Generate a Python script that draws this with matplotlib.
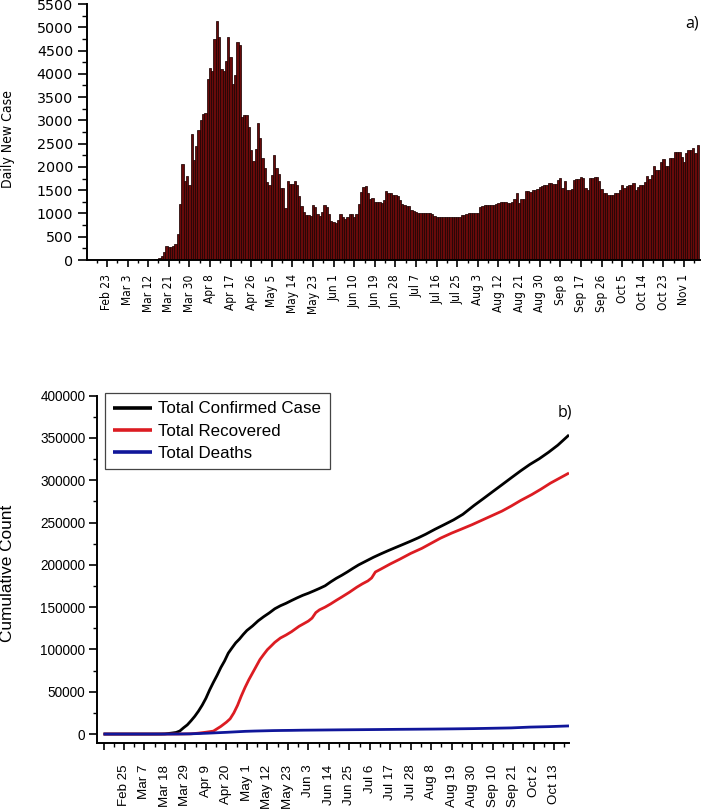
import os
import numpy as np
import pandas as pd
import matplotlib
matplotlib.use("Agg")
import matplotlib.pyplot as plt
from matplotlib import font_manager
from matplotlib.ticker import FixedLocator

# ---------------- data ----------------
START = pd.Timestamp("2020-02-14")          # first day of both time axes

daily_feb_mar10 = [0] * 26                   # Feb 14 - Mar 10
daily_mar = [1, 0, 4, 1, 12, 29, 51, 93, 168, 311, 277, 289, 293, 343, 561,
             1196, 2069, 1704, 1815, 1610, 2704]                       # Mar 11-31
daily_apr = [2148, 2456, 2786, 3013, 3135, 3148, 3892, 4117, 4056, 4747,
             5138, 4789, 4093, 4062, 4281, 4801, 4353, 3783, 3977, 4674,
             4611, 3083, 3116, 3122, 2861, 2357, 2131, 2392, 2936, 2615]
daily_may = [2188, 1983, 1670, 1614, 1832, 2253, 1977, 1848, 1546, 1542,
             1114, 1704, 1635, 1639, 1708, 1610, 1368, 1158, 1022, 972,
             961, 952, 1186, 1141, 987, 948, 1035, 1182, 1141, 983, 839]
daily_jun = [827, 786, 867, 988, 930, 878, 916, 989, 993, 922,
             987, 1195, 1459, 1562, 1592, 1430, 1300, 1330, 1250, 1240,
             1240, 1230, 1290, 1490, 1450, 1430, 1390, 1390, 1370, 1290]
daily_jul = [1200, 1190, 1170, 1160, 1080, 1050, 1040, 1020, 1010, 1010,
             1000, 1010, 1000, 990, 940, 930, 930, 920, 920, 915,
             920, 920, 930, 925, 930, 930, 970, 970, 990, 1000, 1000]
daily_aug = [1000, 1010, 1020, 1140, 1170, 1180, 1180, 1180, 1190, 1190,
             1210, 1230, 1250, 1250, 1250, 1225, 1225, 1240, 1300, 1430,
             1225, 1300, 1300, 1480, 1490, 1460, 1500, 1510, 1520, 1575, 1600]
daily_sep = [1610, 1620, 1650, 1650, 1640, 1640, 1720, 1755, 1545, 1690,
             1510, 1500, 1520, 1720, 1740, 1740, 1790, 1760, 1545, 1500,
             1760, 1760, 1775, 1775, 1690, 1520, 1430, 1430, 1400, 1400]
daily_oct = [1400, 1430, 1430, 1500, 1610, 1540, 1600, 1610, 1610, 1650,
             1500, 1560, 1610, 1620, 1680, 1800, 1750, 1820, 2020, 1930,
             1930, 2110, 2160, 2020, 2020, 2200, 2200, 2310, 2310, 2310, 2220]
daily_nov = [2110, 2290, 2360, 2360, 2400, 2290, 2470]                  # Nov 1-7

top_tick_labels = ["Feb 23", "Mar 3", "Mar 12", "Mar 21", "Mar 30", "Apr 8",
                   "Apr 17", "Apr 26", "May 5", "May 14", "May 23", "Jun 1",
                   "Jun 10", "Jun 19", "Jun 28", "Jul 7", "Jul 16", "Jul 25",
                   "Aug 3", "Aug 12", "Aug 21", "Aug 30", "Sep 8", "Sep 17",
                   "Sep 26", "Oct 5", "Oct 14", "Oct 23", "Nov 1"]
bottom_tick_labels = ["Feb 25", "Mar 7", "Mar 18", "Mar 29", "Apr 9", "Apr 20",
                      "May 1", "May 12", "May 23", "Jun 3", "Jun 14", "Jun 25",
                      "Jul 6", "Jul 17", "Jul 28", "Aug 8", "Aug 19", "Aug 30",
                      "Sep 10", "Sep 21", "Oct 2", "Oct 13"]

confirmed_dates = ["Feb 14", "Mar 10", "Mar 13", "Mar 16", "Mar 18", "Mar 20",
                   "Mar 22", "Mar 24", "Mar 26", "Mar 28", "Mar 30", "Apr 1",
                   "Apr 3", "Apr 5", "Apr 7", "Apr 9", "Apr 11", "Apr 13",
                   "Apr 15", "Apr 17", "Apr 19", "Apr 21", "Apr 23", "Apr 25",
                   "Apr 27", "Apr 29", "May 1", "May 4", "May 7", "May 10",
                   "May 13", "May 16", "May 19", "May 22", "May 25", "May 28",
                   "May 31", "Jun 3", "Jun 6", "Jun 9", "Jun 12", "Jun 15",
                   "Jun 18", "Jun 21", "Jun 24", "Jun 27", "Jun 30", "Jul 4",
                   "Jul 8", "Jul 12", "Jul 16", "Jul 20", "Jul 24", "Jul 28",
                   "Aug 1", "Aug 5", "Aug 10", "Aug 15", "Aug 20", "Aug 25",
                   "Aug 31", "Sep 5", "Sep 10", "Sep 15", "Sep 20", "Sep 25",
                   "Sep 30", "Oct 5", "Oct 10", "Oct 15", "Oct 21"]
total_confirmed = [0, 0, 5, 47, 191, 670, 1236, 1872, 3629, 7402, 10827, 15679,
                   20921, 27069, 34109, 42282, 52167, 61049, 69392, 78546,
                   86306, 95591, 101790, 107773, 112261, 117589, 122392,
                   127659, 133721, 138657, 143114, 148067, 151615, 154500,
                   157814, 160979, 163942, 166422, 169218, 172114, 175218,
                   179831, 184031, 187685, 191657, 195883, 199906, 204428,
                   208938, 212993, 216873, 220572, 224252, 227982, 231869,
                   236112, 241997, 247500, 253108, 259692, 270133, 278228,
                   286455, 294620, 302867, 311000, 318663, 325331, 333000,
                   341431, 353500]

recovered_dates = ["Feb 14", "Mar 20", "Mar 27", "Apr 1", "Apr 5", "Apr 9",
                   "Apr 13", "Apr 17", "Apr 20", "Apr 22", "Apr 24", "Apr 26",
                   "Apr 28", "Apr 30", "May 2", "May 4", "May 6", "May 8",
                   "May 10", "May 12", "May 14", "May 16", "May 19", "May 22",
                   "May 25", "May 29", "Jun 1", "Jun 3", "Jun 5", "Jun 7",
                   "Jun 9", "Jun 12", "Jun 15", "Jun 18", "Jun 21", "Jun 25",
                   "Jun 29", "Jul 2", "Jul 5", "Jul 7", "Jul 9", "Jul 12",
                   "Jul 17", "Jul 22", "Jul 28", "Aug 3", "Aug 8", "Aug 13",
                   "Aug 19", "Aug 24", "Aug 30", "Sep 4", "Sep 9", "Sep 15",
                   "Sep 20", "Sep 25", "Oct 1", "Oct 6", "Oct 11", "Oct 16",
                   "Oct 21"]
total_recovered = [0, 0, 70, 243, 1042, 2142, 3446, 9000, 14000, 18000, 25000,
                   34000, 45000, 55000, 64000, 72000, 80000, 88000, 94000,
                   99700, 104000, 108400, 113500, 117000, 121000, 127300,
                   131000, 133500, 137000, 143500, 146800, 150000, 153800,
                   158000, 162000, 167500, 173500, 177500, 181000, 184500,
                   191500, 195000, 201000, 206500, 213500, 219500, 225500,
                   231500, 237500, 242000, 247500, 252500, 257500, 263500,
                   269500, 276000, 283000, 289500, 296500, 302500, 308500]

death_dates = ["Feb 14", "Mar 16", "Mar 20", "Mar 25", "Mar 31", "Apr 5",
               "Apr 10", "Apr 15", "Apr 20", "Apr 25", "Apr 30", "May 5",
               "May 10", "May 15", "May 20", "May 25", "May 31", "Jun 10",
               "Jun 20", "Jun 30", "Jul 10", "Jul 20", "Jul 31", "Aug 10",
               "Aug 20", "Aug 31", "Sep 10", "Sep 20", "Sep 30", "Oct 10",
               "Oct 21"]
total_deaths = [0, 0, 9, 59, 214, 574, 1006, 1518, 2017, 2600, 3174, 3520,
                3786, 4055, 4222, 4340, 4540, 4746, 4950, 5131, 5323, 5526,
                5710, 5891, 6121, 6417, 6837, 7249, 8195, 8722, 9584]

# ---------------- helpers ----------------
def day_index(labels):
    d = pd.to_datetime(["2020 " + s for s in labels], format="%Y %b %d")
    return np.asarray((d - START).days, dtype=float)

names = {f.name for f in font_manager.fontManager.ttflist}
SANS = "Liberation Sans" if "Liberation Sans" in names else "DejaVu Sans"
LABEL_FONT = "Open Sans" if "Open Sans" in names else SANS

# condensed face for the narrow rotated labels of panel a
narrow_file = None
prefs = ["liberationsansnarrow-regular", "dejavusanscondensed.",
         "robotocondensed-regular", "condensed", "narrow"]
all_files = list(font_manager.findSystemFonts())
for p in prefs:
    hits = [f for f in all_files if p in os.path.basename(f).lower()
            and not any(k in os.path.basename(f).lower()
                        for k in ("bold", "italic", "oblique"))]
    if hits:
        narrow_file = sorted(hits)[0]
        break

def narrow_prop(size):
    if narrow_file:
        return font_manager.FontProperties(fname=narrow_file, size=size)
    return font_manager.FontProperties(family=SANS, size=size * 0.95)

daily = (daily_feb_mar10 + daily_mar + daily_apr + daily_may + daily_jun +
         daily_jul + daily_aug + daily_sep + daily_oct + daily_nov)
x_daily = np.arange(len(daily))

W, H = 713, 809
fig = plt.figure(figsize=(W / 100, H / 100), dpi=100)

# ---------------- panel a ----------------
ax1 = fig.add_axes([87 / W, 1 - 260 / H, (700 - 87) / W, (260 - 4) / H])
ax1.bar(x_daily, daily, width=1.0, color="#680a0a", edgecolor="#1e0303",
        linewidth=0.55, align="center", zorder=2)
ax1.set_xlim(0.3, 268)
ax1.set_ylim(0, 5500)

top_major = np.concatenate([[day_index(top_tick_labels)[0] - 9],
                            day_index(top_tick_labels)])
ax1.xaxis.set_major_locator(FixedLocator(top_major))
ax1.xaxis.set_minor_locator(FixedLocator(top_major + 4.5))
ax1.set_xticklabels([""] + top_tick_labels, rotation=90,
                    fontproperties=narrow_prop(8.6))
ax1.set_yticks(np.arange(0, 5501, 500))
ax1.yaxis.set_minor_locator(FixedLocator(np.arange(250, 5500, 500)))
for lbl in ax1.get_yticklabels():
    lbl.set_family("DejaVu Sans")
    lbl.set_fontsize(10.3)
ax1.tick_params(axis="x", which="major", direction="out", length=4.8,
                width=1.2, pad=5.5)
ax1.tick_params(axis="x", which="minor", direction="out", length=2.5, width=1.0)
ax1.tick_params(axis="y", which="major", direction="out", length=6.5,
                width=1.2, pad=3.5)
ax1.tick_params(axis="y", which="minor", direction="out", length=3.4, width=1.0)
for s in ("top", "right"):
    ax1.spines[s].set_visible(False)
for s in ("left", "bottom"):
    ax1.spines[s].set_linewidth(1.4)
fig.text(8 / W, 1 - 139 / H, "Daily New Case", rotation=90, ha="center",
         va="center", fontproperties=narrow_prop(10.0))
fig.text(692 / W, 1 - 23 / H, "a)", ha="center", va="center", fontsize=11.5,
         family=LABEL_FONT)

# ---------------- panel b ----------------
ax2 = fig.add_axes([97 / W, 1 - 743 / H, (569 - 97) / W, (743 - 395.6) / H])
ax2.plot(day_index(confirmed_dates), total_confirmed, color="black", lw=2.0,
         label="Total Confirmed Case", solid_capstyle="butt", zorder=3)
ax2.plot(day_index(recovered_dates), total_recovered, color="#dc1c22", lw=2.0,
         label="Total Recovered", solid_capstyle="butt", zorder=4)
ax2.plot(day_index(death_dates), total_deaths, color="#10169a", lw=2.0,
         label="Total Deaths", solid_capstyle="butt", zorder=5)
ax2.set_xlim(-3.5, 250)
ax2.set_ylim(-10600, 400000)

bot_major = np.concatenate([[day_index(bottom_tick_labels)[0] - 11],
                            day_index(bottom_tick_labels)])
ax2.xaxis.set_major_locator(FixedLocator(bot_major))
ax2.xaxis.set_minor_locator(FixedLocator(np.append(bot_major + 5.5,
                                                   bot_major[0] - 5.5)))
ax2.set_xticklabels([""] + bottom_tick_labels, rotation=90, fontsize=9.6,
                    family=SANS)
ax2.set_yticks(np.arange(0, 400001, 50000))
ax2.yaxis.set_minor_locator(FixedLocator(np.arange(25000, 400000, 50000)))
for lbl in ax2.get_yticklabels():
    lbl.set_family(SANS)
    lbl.set_fontsize(9.8)
ax2.tick_params(axis="x", which="major", direction="out", length=5.0,
                width=1.2, pad=10.5)
ax2.tick_params(axis="x", which="minor", direction="out", length=2.8, width=1.0)
ax2.tick_params(axis="y", which="major", direction="out", length=5.8,
                width=1.2, pad=2.5)
ax2.tick_params(axis="y", which="minor", direction="out", length=2.9, width=1.0)
for s in ("top", "right"):
    ax2.spines[s].set_visible(False)
for s in ("left", "bottom"):
    ax2.spines[s].set_linewidth(1.4)

fig.text(8 / W, 1 - 573 / H, "Cumulative Count", rotation=90, ha="center",
         va="center", fontsize=12.4, family=SANS)
fig.text(565 / W, 1 - 413 / H, "b)", ha="center", va="center", fontsize=11.5,
         family=LABEL_FONT)

leg = ax2.legend(loc="upper left", bbox_to_anchor=(0.017, 1.0075),
                 borderaxespad=0, handlelength=2.3,
                 handletextpad=0.35, labelspacing=0.42, borderpad=0.5,
                 fancybox=False, framealpha=1, edgecolor="#444444",
                 prop={"family": SANS, "size": 12.2})
leg.get_frame().set_linewidth(0.9)
for line in leg.get_lines():
    line.set_linewidth(2.6)

fig.savefig("out.png", dpi=100)
